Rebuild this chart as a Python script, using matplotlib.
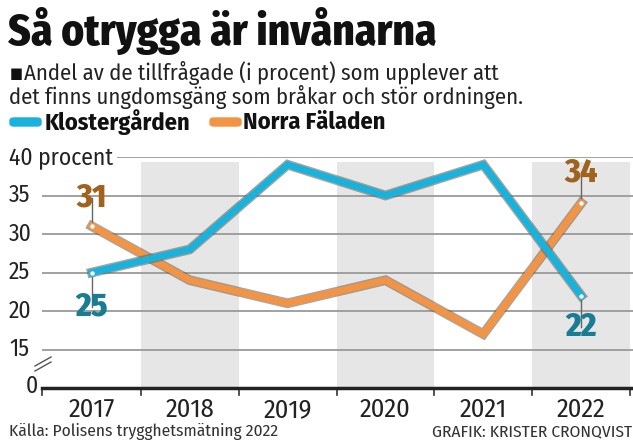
import numpy as np
import matplotlib as mpl
mpl.use('Agg')
import matplotlib.pyplot as plt
import matplotlib.patheffects as pe
from matplotlib.patches import FancyBboxPatch

# data
years = [2017, 2018, 2019, 2020, 2021, 2022]
kloster = [25, 28, 39, 35, 39, 22]
norra = [31, 24, 21, 24, 17, 34]
yticks = [15, 20, 25, 30, 35, 40]

FONT = ['Fira Sans Condensed', 'DejaVu Sans']
plt.rcParams['font.family'] = FONT
plt.rcParams['font.stretch'] = 'condensed'
BLUE = '#19b2dc'
ORANGE = '#f29444'

fig = plt.figure(figsize=(6.33, 4.41), dpi=100)
W, H = 633, 441

def fx(px):
	return px / W

def fy(py):
	return 1 - py / H

ax = fig.add_axes([fx(42), fy(388), fx(633) - fx(42), fy(157) - fy(388)])
ax.set_xlim(2016.49, 2022.53)
ax.set_ylim(10, 40)
ax.axis('off')

# grey bands every other year
for yr in years[1::2]:
	ax.axvspan(yr - 0.5, yr + 0.5, ymax=0.98, color='#e6e6e6', lw=0, zorder=0)

# grid lines
for v in yticks:
	x0 = 2016.49 if v != 40 else 2017.27
	ax.plot([x0, 2022.53], [v, v], color='#9a9a9a', lw=1.3, zorder=1)

# axis line and ticks
ax.plot([2016.49, 2022.53], [10, 10], color='#222222', lw=2.5, zorder=3, clip_on=False)
for yr in years:
	ax.plot([yr + 0.5, yr + 0.5], [10, 9.1], color='#333333', lw=1.2, clip_on=False)
ax.plot([2016.49, 2016.49], [10, 9.1], color='#333333', lw=1.2, clip_on=False)

for yr in years:
	ax.text(yr, 7.2, str(yr), ha='center', va='center', fontsize=19, color='#222222')

# y labels
for v in yticks:
	lab = '40 procent' if v == 40 else str(v)
	fig.text(fx(9), ax.transData.transform((0, v))[1] / H, lab, ha='left', va='center',
		fontsize=17, color='#222222')
fig.text(fx(38), fy(386), '0', ha='right', va='center', fontsize=17, color='#222222')
# axis break marks
for dy in [0, 5]:
	fig.add_artist(plt.Line2D([fx(35), fx(51)], [fy(366 + dy), fy(357 + dy)], color='#555555', lw=1))

shadow = [pe.Stroke(linewidth=7, foreground='#6a5a4a', alpha=0.55), pe.Normal()]
ax.plot(years, norra, color=ORANGE, lw=5, solid_joinstyle='miter', zorder=4, path_effects=shadow)
ax.plot(years, kloster, color=BLUE, lw=5, solid_joinstyle='miter', zorder=5, path_effects=shadow)

# end points and value labels
def endlabel(x, y, ly, txt, col, lc):
	ax.plot([x, x], [y, ly], color='#666666', lw=1, zorder=3)
	ax.plot([x], [y], 'o', ms=4, mfc='white', mec=lc, mew=0.8, zorder=6)
	ax.text(x, ly, txt, ha='center', va='center', fontsize=24, weight='heavy', color=col, zorder=6)

endlabel(years[0], norra[0], 34.7, str(norra[0]), '#a0621c', ORANGE)
endlabel(years[0], kloster[0], 20.5, str(kloster[0]), '#1a7c92', BLUE)
endlabel(years[-1], norra[-1], 38.0, str(norra[-1]), '#a0621c', ORANGE)
endlabel(years[-1], kloster[-1], 17.9, str(kloster[-1]), '#1a7c92', BLUE)

# header
fig.text(fx(8), fy(31), 'Så otrygga är invånarna', ha='left', va='center', fontsize=31,
	weight='heavy', color='#111111')
fig.text(fx(10), fy(73), '■', ha='left', va='center', fontsize=11, family='DejaVu Sans', color='#111111')
fig.text(fx(24), fy(73), 'Andel av de tillfrågade (i procent) som upplever att', ha='left', va='center',
	fontsize=16.3, color='#222222')
fig.text(fx(9), fy(97), 'det finns ungdomsgäng som bråkar och stör ordningen.', ha='left', va='center',
	fontsize=16.3, color='#222222')

# legend
for x0, col, lab, tx in [(10, BLUE, 'Klostergården', 45), (210, ORANGE, 'Norra Fäladen', 243)]:
	fig.add_artist(FancyBboxPatch((fx(x0), fy(126)), fx(31), fy(118) - fy(126),
		boxstyle='round,pad=0,rounding_size=0.006', color=col, transform=fig.transFigure))
	fig.text(fx(tx), fy(122), lab, ha='left', va='center', fontsize=17.5, weight='bold',
		color='#111111')

fig.text(fx(9), fy(432), 'Källa: Polisens trygghetsmätning 2022', ha='left', va='center',
	fontsize=12.5, color='#333333')
fig.text(fx(632), fy(432), 'GRAFIK: KRISTER CRONQVIST', ha='right', va='center',
	fontsize=12.5, color='#333333')

plt.savefig('out.png', dpi=100)
